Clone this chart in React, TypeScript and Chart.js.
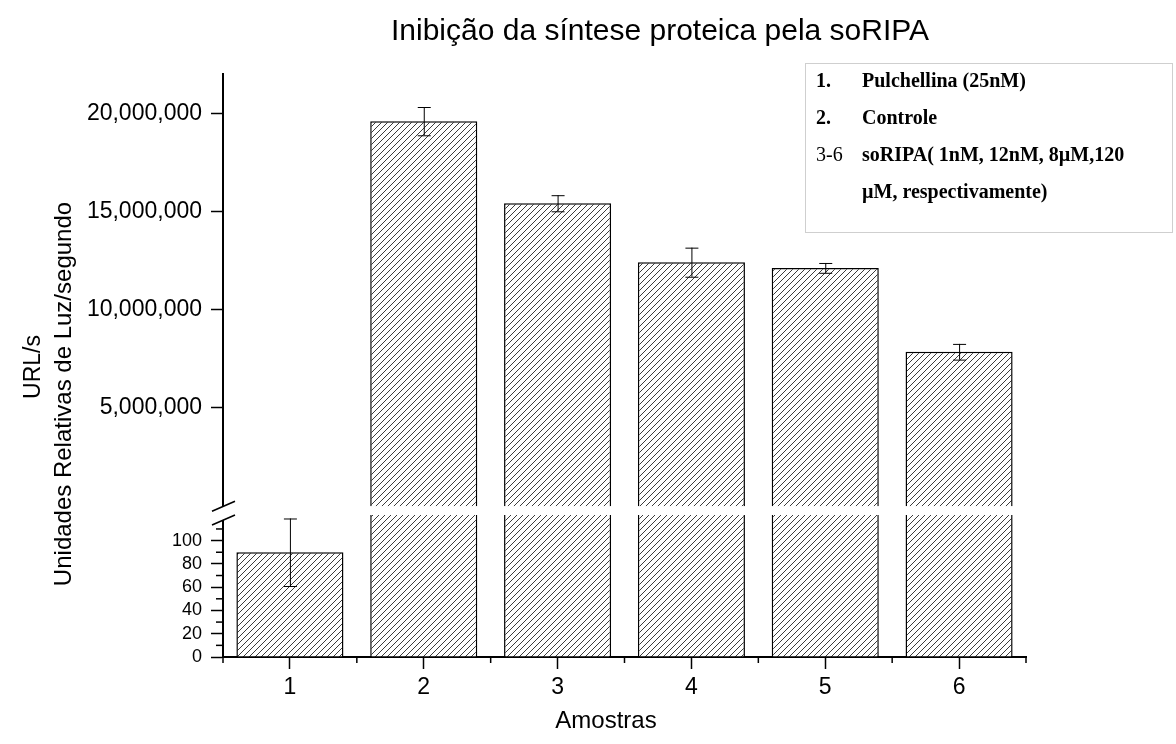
import React, { useEffect, useRef } from 'react';
import { Chart, registerables } from 'chart.js';

Chart.register(...registerables);

const categories = ['1', '2', '3', '4', '5', '6'];
const values = [90, 19600000, 15420000, 12420000, 12130000, 7860000];
const errors = [29, 720000, 410000, 740000, 250000, 400000];
const upperTicks = [5000000, 10000000, 15000000, 20000000];
const lowerTicks = [0, 20, 40, 60, 80, 100];
const lowerMinorTicks = [10, 30, 50, 70, 90, 110];
const LOWER_MAX = 122;
const UPPER_MIN = -450000;
const UPPER_MAX = 22000000;

const TITLE = 'Inibição da síntese proteica pela soRIPA';
const X_TITLE = 'Amostras';
const Y_TITLE = 'URL/s';
const Y_SUBTITLE = 'Unidades Relativas de Luz/segundo';
const legendNums = ['1.', '2.', '3-6', ''];
const legendNumBold = [true, true, false, false];
const legendTexts = ['Pulchellina (25nM)', 'Controle', 'soRIPA( 1nM, 12nM, 8µM,120', 'µM, respectivamente)'];

const SANS = '"Liberation Sans", Arial, sans-serif';
const SERIF = '"Liberation Serif", "Times New Roman", serif';

function makeHatch(): CanvasPattern | string {
  const c = document.createElement('canvas');
  c.width = 6;
  c.height = 6;
  const g = c.getContext('2d');
  if (!g) return '#fff';
  g.fillStyle = '#ffffff';
  g.fillRect(0, 0, 6, 6);
  g.strokeStyle = '#3c3c3c';
  g.lineWidth = 1;
  g.beginPath();
  g.moveTo(0, 6); g.lineTo(6, 0);
  g.moveTo(-3, 3); g.lineTo(3, -3);
  g.moveTo(3, 9); g.lineTo(9, 3);
  g.stroke();
  const p = g.createPattern(c, 'repeat');
  return p || '#fff';
}

const overlayPlugin = {
  id: 'overlay',
  beforeDatasetDraw(chart: any, args: any) {
    const meta = chart.getDatasetMeta(args.index);
    const ys = meta.yScale;
    const ctx = chart.ctx;
    ctx.save();
    ctx.beginPath();
    if (ys.id === 'yTop') {
      ctx.rect(0, 0, chart.width, ys.bottom);
    } else {
      ctx.rect(0, ys.top, chart.width, chart.height - ys.top);
    }
    ctx.clip();
  },
  afterDatasetDraw(chart: any) {
    chart.ctx.restore();
  },
  afterDatasetsDraw(chart: any) {
    const ctx = chart.ctx;
    const xs = chart.scales.x;
    const yTop = chart.scales.yTop;
    const yBot = chart.scales.yBot;
    const area = chart.chartArea;
    ctx.save();
    // error bars
    ctx.strokeStyle = '#000';
    ctx.lineWidth = 1;
    values.forEach((v, i) => {
      const sc = v > LOWER_MAX ? yTop : yBot;
      const x = xs.getPixelForValue(i);
      const yh = sc.getPixelForValue(v + errors[i]);
      const yl = sc.getPixelForValue(v - errors[i]);
      ctx.beginPath();
      ctx.moveTo(x + 0.5, yh);
      ctx.lineTo(x + 0.5, yl);
      ctx.moveTo(x - 6, yh + 0.5);
      ctx.lineTo(x + 7, yh + 0.5);
      ctx.moveTo(x - 6, yl + 0.5);
      ctx.lineTo(x + 7, yl + 0.5);
      ctx.stroke();
    });
    // minor x ticks
    ctx.lineWidth = 1.5;
    const half = (xs.getPixelForValue(1) - xs.getPixelForValue(0)) / 2;
    for (let k = 0; k <= categories.length; k++) {
      const x = k < categories.length ? xs.getPixelForValue(k) - half : xs.getPixelForValue(k - 1) + half;
      ctx.beginPath();
      ctx.moveTo(x, area.bottom);
      ctx.lineTo(x, area.bottom + 6);
      ctx.stroke();
    }
    // minor y ticks (lower)
    lowerMinorTicks.forEach((v) => {
      const y = yBot.getPixelForValue(v);
      ctx.beginPath();
      ctx.moveTo(area.left - 7, y);
      ctx.lineTo(area.left, y);
      ctx.stroke();
    });
    // axis break marks
    const x0 = area.left;
    const ya = yTop.getPixelForValue(0);
    const yb = yBot.top;
    ctx.fillStyle = '#fff';
    ctx.beginPath();
    ctx.moveTo(x0 - 6, ya + 2.6);
    ctx.lineTo(x0 + 6, ya - 2.6);
    ctx.lineTo(x0 + 6, yb + 2.4);
    ctx.lineTo(x0 - 6, yb + 7.4);
    ctx.closePath();
    ctx.fill();
    ctx.lineWidth = 1.6;
    ctx.beginPath();
    ctx.moveTo(x0 - 11, ya + 5);
    ctx.lineTo(x0 + 12, ya - 5);
    ctx.moveTo(x0 - 11, yb + 10);
    ctx.lineTo(x0 + 12, yb);
    ctx.stroke();
    ctx.restore();
  },
  afterDraw(chart: any) {
    const ctx = chart.ctx;
    ctx.save();
    ctx.fillStyle = '#000';
    // title
    ctx.font = `30px ${SANS}`;
    ctx.textAlign = 'center';
    ctx.textBaseline = 'alphabetic';
    ctx.fillText(TITLE, 660, 40);
    // x title
    ctx.font = `24px ${SANS}`;
    ctx.fillText(X_TITLE, 606, 728);
    // y titles
    ctx.save();
    ctx.translate(34, 367);
    ctx.rotate(-Math.PI / 2);
    ctx.font = `23px ${SANS}`;
    ctx.textBaseline = 'middle';
    ctx.fillText(Y_TITLE, 0, 0);
    ctx.restore();
    ctx.save();
    ctx.translate(64, 394);
    ctx.rotate(-Math.PI / 2);
    ctx.font = `24px ${SANS}`;
    ctx.textBaseline = 'middle';
    ctx.fillText(Y_SUBTITLE, 0, 0);
    ctx.restore();
    // legend box
    ctx.strokeStyle = '#cfcfcf';
    ctx.lineWidth = 1;
    ctx.strokeRect(805.5, 63.5, 367, 169);
    ctx.textAlign = 'left';
    ctx.textBaseline = 'alphabetic';
    const baselines = [86.7, 123.5, 160.7, 197.5];
    legendTexts.forEach((t, i) => {
      if (legendNums[i]) {
        ctx.font = `${legendNumBold[i] ? 'bold ' : ''}20px ${SERIF}`;
        ctx.fillText(legendNums[i], 816, baselines[i]);
      }
      ctx.font = `bold 20px ${SERIF}`;
      ctx.fillText(t, 862, baselines[i]);
    });
    ctx.restore();
  },
};

export default function App() {
  const ref = useRef<HTMLCanvasElement | null>(null);
  useEffect(() => {
    if (!ref.current) return;
    const hatch = makeHatch();
    const gridOpts = {
      drawOnChartArea: false,
      drawTicks: true,
      tickLength: 12,
      tickColor: '#000',
      tickWidth: 1.5,
    };
    const border = { display: true, color: '#000', width: 2 };
    const barStyle = {
      backgroundColor: hatch,
      borderColor: '#000',
      borderWidth: 1.5,
      barPercentage: 0.8,
      categoryPercentage: 1,
      grouped: false,
    };
    const chart = new Chart(ref.current, {
      type: 'bar',
      data: {
        labels: categories,
        datasets: [
          { ...barStyle, label: 'upper', data: values.map((v) => (v > LOWER_MAX ? v : null)), yAxisID: 'yTop' } as any,
          { ...barStyle, label: 'lower', data: values, yAxisID: 'yBot' } as any,
        ],
      },
      options: {
        responsive: false,
        animation: false,
        layout: { padding: { left: 0, top: 74, right: 150, bottom: 0 } },
        plugins: { legend: { display: false }, title: { display: false }, tooltip: { enabled: false } },
        scales: {
          x: {
            type: 'category',
            offset: true,
            grid: { ...gridOpts, offset: false },
            border,
            ticks: { color: '#000', font: { family: SANS, size: 23 }, padding: 5, maxRotation: 0 },
            afterFit: (s: any) => { s.height = 87; },
          },
          yBot: {
            type: 'linear',
            position: 'left',
            stack: 'ys',
            stackWeight: 142,
            min: 0,
            max: LOWER_MAX,
            grid: gridOpts,
            border,
            ticks: { color: '#000', font: { family: SANS, size: 18 }, padding: 9, autoSkip: false },
            afterBuildTicks: (s: any) => { s.ticks = lowerTicks.map((v) => ({ value: v })); },
            afterFit: (s: any) => { s.width = 223; },
          },
          yTop: {
            type: 'linear',
            position: 'left',
            stack: 'ys',
            stackWeight: 441,
            min: UPPER_MIN,
            max: UPPER_MAX,
            grid: gridOpts,
            border,
            ticks: {
              color: '#000',
              font: { family: SANS, size: 23 },
              padding: 9,
              autoSkip: false,
              callback: (v: any) => Number(v).toLocaleString('en-US'),
            },
            afterBuildTicks: (s: any) => { s.ticks = upperTicks.map((v) => ({ value: v })); },
            afterFit: (s: any) => { s.width = 223; },
          },
        } as any,
      },
      plugins: [overlayPlugin],
    });
    return () => chart.destroy();
  }, []);
  return (
    <div style={{ position: 'fixed', left: 0, top: 0, width: 1176, height: 744, background: '#fff' }}>
      <canvas ref={ref} width={1176} height={744} />
    </div>
  );
}
